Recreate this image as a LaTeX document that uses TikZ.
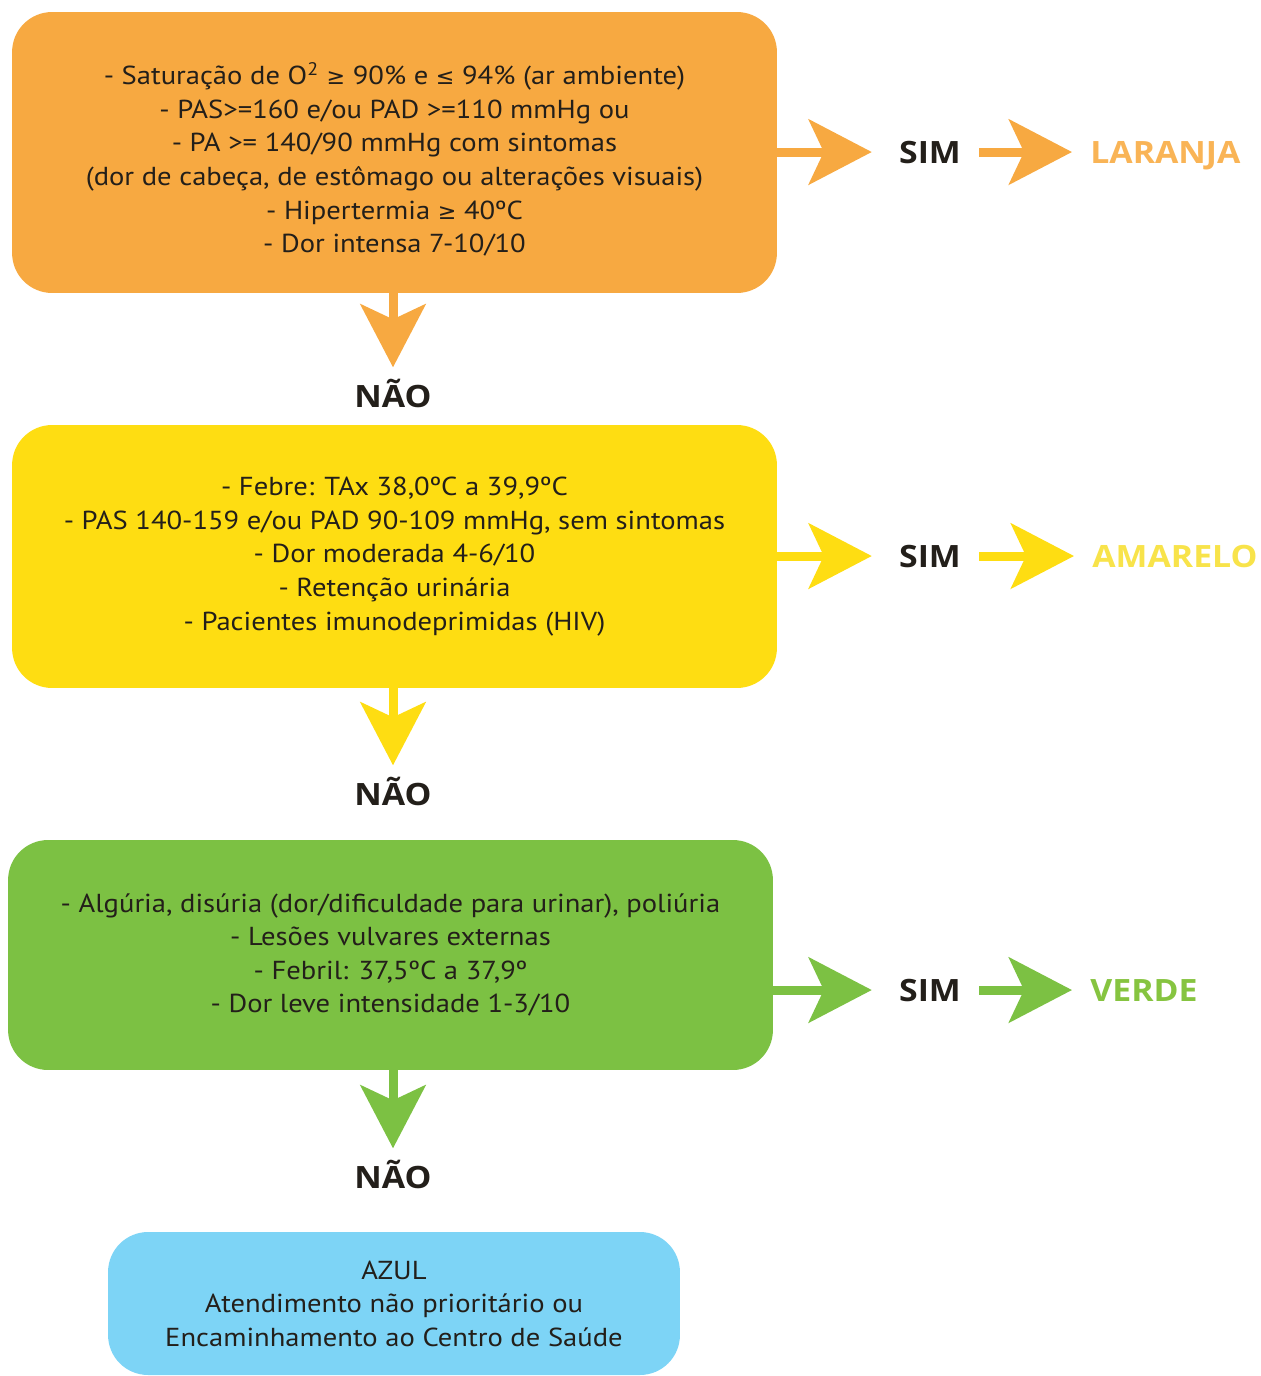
\documentclass[tikz,border=0pt]{standalone}
\usepackage{fontspec}
\setmainfont{PT Sans}[FakeStretch=1.1]
\newfontfamily\rotulofont{Open Sans}[FakeStretch=1.1]
\newfontfamily\simbolos{DejaVu Sans}[Scale=0.85]
\newcommand{\maiorig}{{\simbolos ≥}}
\newcommand{\menorig}{{\simbolos ≤}}
\usetikzlibrary{arrows.meta,positioning}

\definecolor{laranja}{HTML}{F7A941}
\definecolor{laranjaclaro}{HTML}{F9B456}
\definecolor{amarelo}{HTML}{FEDD12}
\definecolor{amareloclaro}{HTML}{F8E34A}
\definecolor{verde}{HTML}{7CC143}
\definecolor{verdeclaro}{HTML}{86C440}
\definecolor{azul}{HTML}{7DD4F6}
\definecolor{escuro}{HTML}{231F1A}

\tikzset{
  caixa/.style={rounded corners=0.8cm, text=escuro, align=center, inner sep=0pt,
    font=\fontsize{14.8}{19.1}\selectfont},
  seta/.style={line width=0.18cm, -{Stealth[length=1.26cm,width=1.3cm,inset=0.3cm]}},
  resposta/.style={font=\rotulofont\fontsize{17.5}{19}\selectfont\bfseries, text=escuro, inner sep=0pt, anchor=base},
  rotulo/.style={font=\rotulofont\fontsize{17.5}{19}\selectfont\bfseries, inner sep=0pt, anchor=base west},
}

\begin{document}
\begin{tikzpicture}[x=0.02cm,y=-0.02cm]
  \useasboundingbox (0,0) rectangle (1261,1376);

  % caixas
  \node[caixa, fill=laranja, minimum width=15.3cm, minimum height=5.62cm] (cxlaranja) at (394.5,152.5)
    {\rule{0pt}{0.72cm}- Saturação de O\textsuperscript{2} \maiorig{} 90\% e \menorig{} 94\% (ar ambiente)\\
     - PAS>=160 e/ou PAD >=110 mmHg ou\\
     - PA >= 140/90 mmHg com sintomas\\
     (dor de cabeça, de estômago ou alterações visuais)\\
     - Hipertermia \maiorig{} 40ºC\\
     - Dor intensa 7-10/10};
  \node[caixa, fill=amarelo, minimum width=15.3cm, minimum height=5.26cm] (cxamarelo) at (394.5,556.5)
    {- Febre: TAx 38,0ºC a 39,9ºC\\
     - PAS 140-159 e/ou PAD 90-109 mmHg, sem sintomas\\
     - Dor moderada 4-6/10\\
     - Retenção urinária\\
     - Pacientes imunodeprimidas (HIV)};
  \node[caixa, fill=verde, minimum width=15.3cm, minimum height=4.6cm] (cxverde) at (390.5,955)
    {- Algúria, disúria (dor/dificuldade para urinar), poliúria\\
     - Lesões vulvares externas\\
     - Febril: 37,5ºC a 37,9º\\
     - Dor leve intensidade 1-3/10};
  \node[caixa, fill=azul, minimum width=11.44cm, minimum height=2.86cm] (cxazul) at (394,1303.5)
    {AZUL\\
     Atendimento não prioritário ou\\
     Encaminhamento ao Centro de Saúde};

  % respostas
  \node[resposta] (nao1) at (393,407) {NÃO};
  \node[resposta] (nao2) at (393,805) {NÃO};
  \node[resposta] (nao3) at (393,1188) {NÃO};
  \node[resposta] (sim1) at (930,163) {SIM};
  \node[resposta] (sim2) at (930,567) {SIM};
  \node[resposta] (sim3) at (930,1001) {SIM};
  \node[rotulo, text=laranjaclaro] (rlaranja) at (1090,163) {LARANJA};
  \node[rotulo, text=amareloclaro] (ramarelo) at (1092,567) {AMARELO};
  \node[rotulo, text=verdeclaro] (rverde) at (1090,1001) {VERDE};

  % setas
  \draw[seta, laranja, shorten >=0.22cm] (nao1.north |- cxlaranja.south) -- (nao1.north);
  \draw[seta, amarelo, shorten >=0.22cm] (nao2.north |- cxamarelo.south) -- (nao2.north);
  \draw[seta, verde, shorten >=0.22cm] (nao3.north |- cxverde.south) -- (nao3.north);

  \draw[seta, laranja, shorten >=0.54cm] (cxlaranja.east |- sim1.west) -- (sim1.west);
  \draw[seta, laranja, shorten <=0.36cm, shorten >=0.36cm] (sim1.east) -- (sim1.east -| rlaranja.west);
  \draw[seta, amarelo, shorten >=0.54cm] (cxamarelo.east |- sim2.west) -- (sim2.west);
  \draw[seta, amarelo, shorten <=0.36cm, shorten >=0.36cm] (sim2.east) -- (sim2.east -| ramarelo.west);
  \draw[seta, verde, shorten >=0.54cm] (cxverde.east |- sim3.west) -- (sim3.west);
  \draw[seta, verde, shorten <=0.36cm, shorten >=0.36cm] (sim3.east) -- (sim3.east -| rverde.west);
\end{tikzpicture}
\end{document}
